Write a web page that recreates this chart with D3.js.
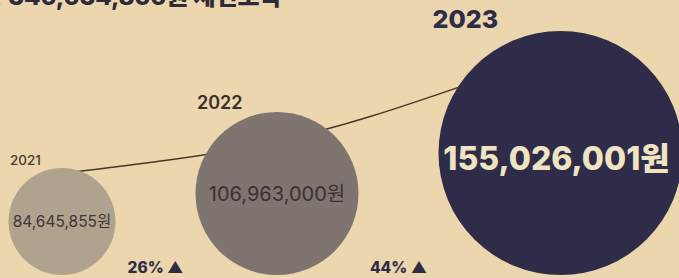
<!DOCTYPE html>
<html>
<head>
<meta charset="utf-8">
<script src="https://cdn.jsdelivr.net/npm/d3@7"></script>
<style>
  html, body { margin: 0; padding: 0; background: #ebd6ad; }
  svg { display: block; }
</style>
</head>
<body>
<div id="chart"></div>
<script>
// data
var years = ["2021", "2022", "2023"];
var amounts = [84645855, 106963000, 155026001];
var growth = [26, 44];
var title = "총 346,634,856원 세전소득";

var width = 679;
var height = 278;
var baseline = 275;   // circles sit on this line
var gap = 80;         // space between circles
var startX = 8.5;

var fontFamily = "Inter, 'Noto Sans CJK KR', sans-serif";
var fills = ["#afa38e", "#7f7570", "#2e2c48"];
var valueColors = ["#3f3538", "#3a3034", "#efe3c2"];
var valueSizes = [15.5, 20, 32];
var valueWeights = [400, 400, 800];
var yearSizes = [13.5, 18, 25];
var yearWeights = [500, 600, 800];
var yearColors = ["#4a3b31", "#3b302b", "#2e2c48"];

// radius scale (hand tuned to the infographic, not strictly proportional)
var r = d3.scaleLinear()
    .domain(amounts)
    .range([53.5, 81.5, 122]);

// lay circles out left to right with a fixed gap
var nodes = [];
var left = startX;
amounts.forEach(function (v, i) {
    var rad = r(v);
    nodes.push({ year: years[i], value: v, r: rad, cx: left + rad, cy: baseline - rad, i: i });
    left += rad * 2 + gap;
});

var svg = d3.select("#chart").append("svg")
    .attr("width", width)
    .attr("height", height)
    .attr("viewBox", "0 0 " + width + " " + height);

svg.append("rect")
    .attr("width", width)
    .attr("height", height)
    .attr("fill", "#ebd6ad");

// title, cut off by the top edge like in the source
svg.append("text")
    .attr("x", -19)
    .attr("y", 5)
    .attr("font-family", fontFamily)
    .attr("font-size", 24)
    .attr("font-weight", 800)
    .attr("fill", "#2e2a38")
    .text(title);

// connecting trend line, drawn behind the circles
var anchorOffsets = [[0, 0.9], [0, 0.64], [-0.8, 0.55]];
var linePts = nodes.map(function (n, i) {
    return [n.cx + anchorOffsets[i][0] * n.r, n.cy - anchorOffsets[i][1] * n.r];
});
svg.append("path")
    .attr("d", d3.line().curve(d3.curveNatural)(linePts))
    .attr("fill", "none")
    .attr("stroke", "#4a3526")
    .attr("stroke-width", 1.5);

// circles
var g = svg.selectAll(".bubble")
    .data(nodes)
    .enter()
    .append("g")
    .attr("class", "bubble");

g.append("circle")
    .attr("cx", function (d) { return d.cx; })
    .attr("cy", function (d) { return d.cy; })
    .attr("r", function (d) { return d.r; })
    .attr("fill", function (d) { return fills[d.i]; });

// value labels
g.append("text")
    .attr("x", function (d) { return d.cx - (d.i == 2 ? 4 : 0); })
    .attr("y", function (d) { return d.cy + (d.i == 2 ? 5 : 0); })
    .attr("dy", "0.36em")
    .attr("text-anchor", "middle")
    .attr("font-family", fontFamily)
    .attr("font-size", function (d) { return valueSizes[d.i]; })
    .attr("font-weight", function (d) { return valueWeights[d.i]; })
    .attr("fill", function (d) { return valueColors[d.i]; })
    .text(function (d) { return d3.format(",")(d.value) + "원"; });

// year labels
g.append("text")
    .attr("x", function (d) { return d.cx - d.r + (d.i == 2 ? -6 : 1.5); })
    .attr("y", function (d) { return d.cy - d.r - 3; })
    .attr("font-family", fontFamily)
    .attr("font-size", function (d) { return yearSizes[d.i]; })
    .attr("font-weight", function (d) { return yearWeights[d.i]; })
    .attr("fill", function (d) { return yearColors[d.i]; })
    .text(function (d) { return d.year; });

// growth labels between circles
svg.selectAll(".growth")
    .data(growth)
    .enter()
    .append("text")
    .attr("class", "growth")
    .attr("x", function (d, i) { return (nodes[i].cx + nodes[i].r + nodes[i + 1].cx - nodes[i + 1].r) / 2; })
    .attr("y", 273)
    .attr("text-anchor", "middle")
    .attr("font-family", fontFamily)
    .attr("font-size", 15.5)
    .attr("font-weight", 800)
    .attr("fill", "#2e2b45")
    .text(function (d) { return d + "% ▲"; });
</script>
</body>
</html>
